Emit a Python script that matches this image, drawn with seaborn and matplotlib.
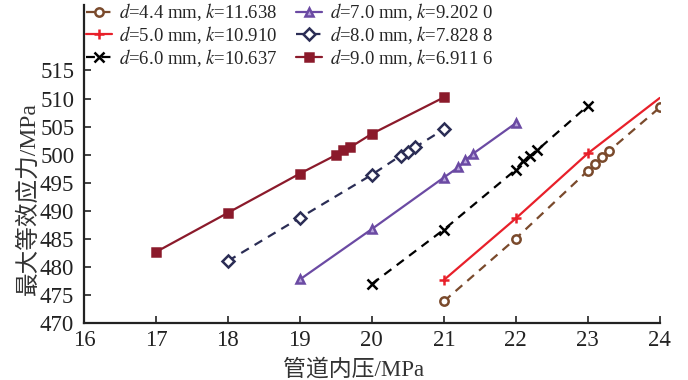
import matplotlib
matplotlib.use("Agg")
import matplotlib.pyplot as plt
import seaborn as sns

# data (pipe inner pressure vs max equivalent stress)
x_44 = [21, 22, 23, 23.1, 23.2, 23.3, 24]
y_44 = [473.8, 485.0, 497.1, 498.3, 499.5, 500.7, 508.4]

x_50 = [21, 22, 23, 24]
y_50 = [477.6, 488.6, 500.2, 510.1]

x_60 = [20, 21, 22, 22.1, 22.2, 22.3, 23]
y_60 = [476.9, 486.6, 497.3, 498.8, 499.8, 500.8, 508.7]

x_70 = [19, 20, 21, 21.2, 21.3, 21.4, 22]
y_70 = [477.7, 486.7, 495.9, 497.7, 499.0, 500.1, 505.6]

x_80 = [18, 19, 20, 20.4, 20.5, 20.6, 21]
y_80 = [481.0, 488.7, 496.4, 499.8, 500.5, 501.3, 504.5]

x_90 = [17, 18, 19, 19.5, 19.6, 19.7, 20, 21]
y_90 = [482.6, 489.6, 496.6, 499.9, 500.8, 501.3, 503.7, 510.2]

labels = [
    r"$d$=4.4 mm, $k$=11.638",
    r"$d$=5.0 mm, $k$=10.910",
    r"$d$=6.0 mm, $k$=10.637",
    r"$d$=7.0 mm, $k$=9.202 0",
    r"$d$=8.0 mm, $k$=7.828 8",
    r"$d$=9.0 mm, $k$=6.911 6",
]

xticks = [16, 17, 18, 19, 20, 21, 22, 23, 24]
yticks = [470, 475, 480, 485, 490, 495, 500, 505, 510, 515]

sns.set_style("ticks")
plt.rcParams["font.family"] = ["Liberation Serif", "Noto Sans CJK SC"]
plt.rcParams["mathtext.fontset"] = "stix"

fig = plt.figure(figsize=(6.88, 3.8), dpi=100)
ax = fig.add_axes([0.122, 0.151, 0.837, 0.836])

series = [
    (x_44, y_44, "#7a4a2c", (0, (4, 3)), "o", "white", None),
    (x_50, y_50, "#e8202a", "-", "+", "#e8202a", [0, 1, 2]),
    (x_60, y_60, "black", (0, (4, 3)), "x", "black", None),
    (x_70, y_70, "#6b4aa3", "-", "^", "#b9a6dc", None),
    (x_80, y_80, "#2b2d55", (0, (4, 3)), "D", "white", None),
    (x_90, y_90, "#8b1a2b", "-", "s", "#8b1a2b", None),
]

for (xs, ys, col, ls, mk, fc, every), lab in zip(series, labels):
    kw = {}
    if every is not None:
        kw["markevery"] = every
    sns.lineplot(
        x=xs, y=ys, ax=ax,
        color=col,
        linestyle=ls,
        linewidth=1.6,
        marker=mk,
        markersize=7 if mk in ["+", "x"] else 6,
        markerfacecolor=fc,
        markeredgecolor=col,
        markeredgewidth=1.8,
        estimator=None,
        sort=False,
        label=lab,
        **kw
    )

ax.set_xlim(16, 24)
ax.set_ylim(470, 526.7)
ax.set_xticks(xticks)
ax.set_yticks(yticks)
ax.tick_params(direction="in", length=5, width=1.2, labelsize=16.5, colors="#222222")
ax.tick_params(axis="x", pad=5)
ax.tick_params(axis="y", pad=7)

for side in ["top", "right"]:
    ax.spines[side].set_visible(False)
for side in ["left", "bottom"]:
    ax.spines[side].set_linewidth(1.6)
    ax.spines[side].set_color("#222222")

ax.set_xlabel("管道内压/MPa", fontsize=16.5, color="#333333")
ax.set_ylabel("最大等效应力/MPa", fontsize=17, color="#333333")
ax.xaxis.set_label_coords(0.469, -0.115)
ax.yaxis.set_label_coords(-0.077, 0.39)

ax.legend(
    loc="upper left",
    bbox_to_anchor=(-0.01, 1.035),
    ncol=2,
    frameon=False,
    fontsize=13.5,
    handlelength=1.4,
    handletextpad=0.4,
    columnspacing=0.95,
    labelspacing=0.05,
    borderaxespad=0.0,
)

fig.savefig("out.png", dpi=100)
